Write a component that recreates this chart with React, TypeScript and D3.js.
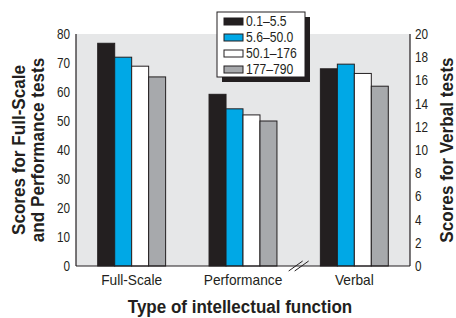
import React from "react";
import * as d3 from "d3";

const categories = ["Full-Scale", "Performance", "Verbal"];
const seriesNames = ["0.1–5.5", "5.6–50.0", "50.1–176", "177–790"];
// Full-Scale and Performance on the left axis (0–80), Verbal on the right axis (0–20)
const fullScale = [76.8, 72.0, 68.9, 65.2];
const performance = [59.2, 54.2, 52.1, 50.0];
const verbal = [17.0, 17.4, 16.6, 15.5];
const leftTicks = [0, 10, 20, 30, 40, 50, 60, 70, 80];
const rightTicks = [0, 2, 4, 6, 8, 10, 12, 14, 16, 18, 20];

const colors = ["#231f20", "#00a8e6", "#ffffff", "#a7a9ac"];
const ink = "#231f20";
const font = "'Liberation Sans', Arial, sans-serif";

// text squeezed horizontally, the fonts here have no condensed cut
function T(props: {
  x: number; y: number; sx?: number; rot?: number; anchor?: string;
  size: number; bold?: boolean; dy?: string; children: React.ReactNode;
}) {
  const { x, y, sx = 1, rot = 0, anchor = "start", size, bold, dy } = props;
  return (
    <text transform={`translate(${x},${y}) rotate(${rot}) scale(${sx},1)`}
      textAnchor={anchor} fontSize={size} fontWeight={bold ? "bold" : "normal"}
      fontFamily={font} fill={ink} dy={dy}>
      {props.children}
    </text>
  );
}

export default function App() {
  const width = 456, height = 318;
  const m = { left: 76, right: 46, top: 34, bottom: 52 };
  const x0 = d3.scaleBand<string>().domain(categories)
    .range([m.left, width - m.right]).paddingInner(0.39).paddingOuter(0.195);
  const x1 = d3.scaleBand<string>().domain(seriesNames).range([0, x0.bandwidth()]);
  const yL = d3.scaleLinear().domain([0, 80]).range([height - m.bottom, m.top]);
  const yR = d3.scaleLinear().domain([0, 20]).range([height - m.bottom, m.top]);
  const rows: { cat: string; vals: number[]; y: d3.ScaleLinear<number, number> }[] = [
    { cat: "Full-Scale", vals: fullScale, y: yL },
    { cat: "Performance", vals: performance, y: yL },
    { cat: "Verbal", vals: verbal, y: yR },
  ];
  const y0 = yL(0);
  const brk = (x0("Performance")! + x0.bandwidth() + x0("Verbal")!) / 2;
  const midY = (m.top + y0) / 2;

  return (
    <svg width={width} height={height} style={{ position: "absolute", left: 0, top: 0 }}>
      <rect x={m.left} y={m.top} width={width - m.left - m.right} height={y0 - m.top} fill="#e6e7e8" />
      {rows.map(r => (
        <g key={r.cat} transform={`translate(${x0(r.cat)},0)`}>
          {r.vals.map((v, i) => (
            <rect key={i} x={x1(seriesNames[i])} y={r.y(v)} width={x1.bandwidth()}
              height={y0 - r.y(v)} fill={colors[i]} stroke={ink} strokeWidth={1} />
          ))}
        </g>
      ))}
      <line x1={m.left} x2={m.left} y1={m.top} y2={y0} stroke={ink} strokeWidth={1.2} />
      <line x1={width - m.right} x2={width - m.right} y1={m.top} y2={y0} stroke={ink} strokeWidth={1.2} />
      <line x1={m.left} x2={width - m.right} y1={y0} y2={y0} stroke={ink} strokeWidth={1.2} />
      {[-3, 3].map(d => (
        <line key={d} x1={brk + d - 7} y1={y0 + 5} x2={brk + d + 7} y2={y0 - 5} stroke={ink} strokeWidth={1} />
      ))}
      {leftTicks.map(t => (
        <T key={t} x={m.left - 6} y={yL(t)} dy="0.36em" anchor="end" size={14} sx={0.84}>{t}</T>
      ))}
      {rightTicks.map(t => (
        <T key={t} x={width - m.right + 5} y={yR(t)} dy="0.36em" size={14} sx={0.84}>{t}</T>
      ))}
      {categories.map(c => (
        <T key={c} x={x0(c)! + x0.bandwidth() / 2} y={285} anchor="middle" size={14} sx={0.98}>{c}</T>
      ))}
      <T x={25} y={midY} rot={-90} anchor="middle" size={18} sx={0.95} bold>Scores for Full-Scale</T>
      <T x={44} y={midY} rot={-90} anchor="middle" size={18} sx={0.95} bold>and Performance tests</T>
      <T x={453} y={midY} rot={-90} anchor="middle" size={18} sx={0.95} bold>Scores for Verbal tests</T>
      <T x={240} y={313} anchor="middle" size={18} sx={0.945} bold>Type of intellectual function</T>
      <g transform="translate(217,12)">
        <rect x={5} y={5} width={88} height={65} fill={ink} />
        <rect x={0} y={0} width={88} height={65} fill="#fff" stroke={ink} strokeWidth={1} />
        {seriesNames.map((s, i) => (
          <g key={s} transform={`translate(0,${9 + i * 16})`}>
            <rect x={7} y={-3} width={19} height={7} fill={colors[i]} stroke={ink} strokeWidth={1} />
            <T x={29} y={0} dy="0.36em" size={14.5} sx={0.84}>{s}</T>
          </g>
        ))}
      </g>
    </svg>
  );
}
